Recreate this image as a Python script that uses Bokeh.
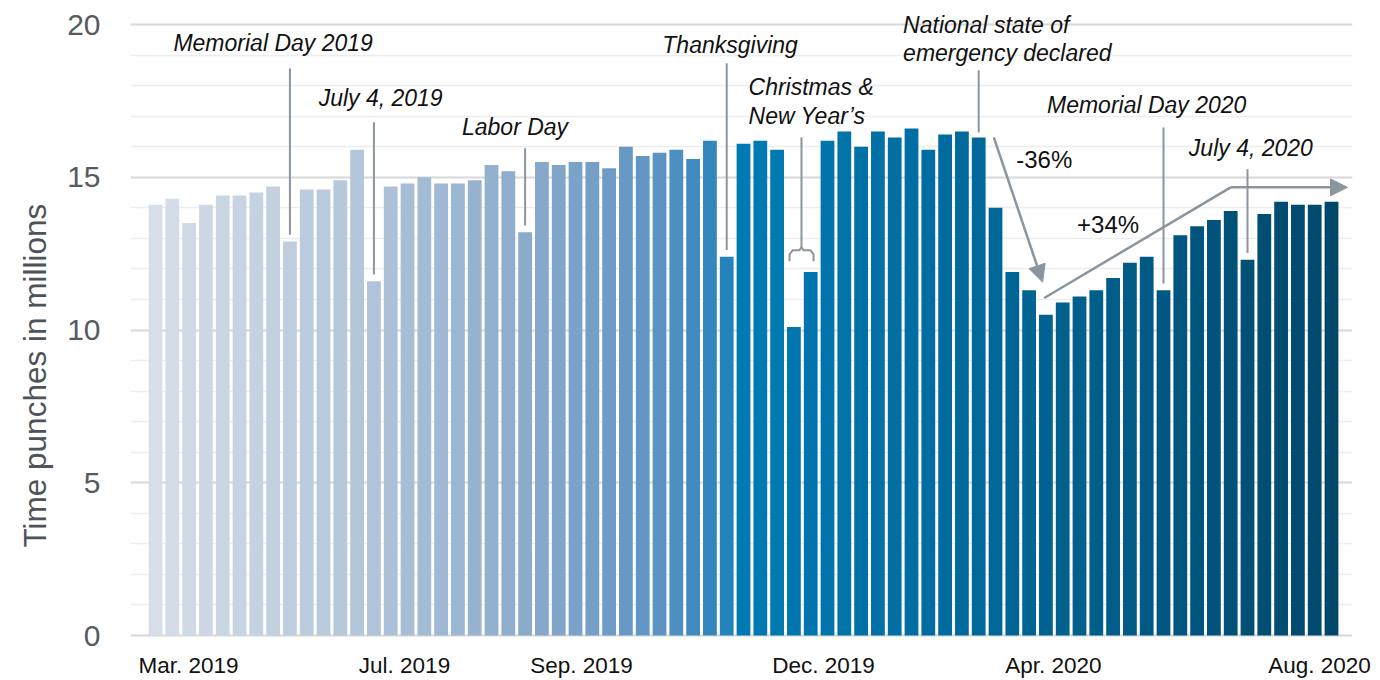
from bokeh.plotting import figure
from bokeh.models import ColumnDataSource, FixedTicker, Arrow, NormalHead, Range1d, Title
from bokeh.core.properties import value
from bokeh.embed import file_html
from bokeh.resources import INLINE

# ---------------- data ----------------
# weekly time punches (millions), one bar per week
punches = [
    14.1, 14.3, 13.5, 14.1, 14.4, 14.4, 14.5, 14.7, 12.9, 14.6, 14.6, 14.9,
    15.9, 11.6, 14.7, 14.8, 15.0, 14.8, 14.8, 14.9, 15.4, 15.2, 13.2, 15.5,
    15.4, 15.5, 15.5, 15.3, 16.0, 15.7, 15.8, 15.9, 15.6, 16.2, 12.4, 16.1,
    16.2, 15.9, 10.1, 11.9, 16.2, 16.5, 16.0, 16.5, 16.3, 16.6, 15.9, 16.4,
    16.5, 16.3, 14.0, 11.9, 11.3, 10.5, 10.9, 11.1, 11.3, 11.7, 12.2, 12.4,
    11.3, 13.1, 13.4, 13.6, 13.9, 12.3, 13.8, 14.2, 14.1, 14.1, 14.2,
]
week = list(range(len(punches)))

x_tick_labels = ["Mar. 2019", "Jul. 2019", "Sep. 2019", "Dec. 2019", "Apr. 2020", "Aug. 2020"]
x_tick_pos = [1.96, 14.82, 25.36, 39.76, 53.45, 69.29]
y_ticks = [0, 5, 10, 15, 20]
y_title = "Time punches in millions"

# single-week events: label, bar index
event_labels = ["Memorial Day 2019", "July 4, 2019", "Labor Day", "Thanksgiving",
                "Memorial Day 2020", "July 4, 2020"]
event_weeks = [8, 13, 22, 34, 60, 65]
holiday_weeks = [38, 39]          # Christmas & New Year's
emergency_week = 49               # National state of emergency declared
drop_label = "-36%"
rise_label = "+34%"

# ---------------- styling helpers ----------------
def hex_to_rgb(h):
    h = h.lstrip("#")
    return tuple(int(h[i:i + 2], 16) for i in (0, 2, 4))

color_stops = [(0, "#d6dee8"), (12, "#b4c6da"), (23, "#87a8ca"), (30, "#5c93c3"),
               (34, "#2582ba"), (35, "#007ab4"), (48, "#006a9c"), (70, "#00486b")]

def ramp(i):
    for (a, ca), (b, cb) in zip(color_stops[:-1], color_stops[1:]):
        if a <= i <= b:
            t = (i - a) / (b - a) if b > a else 0
            r1, g1, b1 = hex_to_rgb(ca)
            r2, g2, b2 = hex_to_rgb(cb)
            return "#%02x%02x%02x" % (round(r1 + (r2 - r1) * t), round(g1 + (g2 - g1) * t), round(b1 + (b2 - b1) * t))
    return color_stops[-1][1]

colors = [ramp(i) for i in week]
src = ColumnDataSource(dict(x=week, top=punches, color=colors))

GRAY = "#8b959d"
FONT = "Liberation Sans"
ANN_SIZE = "23px"

p = figure(width=1380, height=680, output_backend="svg", toolbar_location=None,
           x_range=Range1d(-1.49, 71.25), y_range=Range1d(-0.065, 20.46),
           min_border_left=130, min_border_right=28, min_border_top=10, min_border_bottom=42)
p.outline_line_color = None
p.background_fill_color = "white"
p.border_fill_color = "white"

p.vbar(x="x", top="top", bottom=0, width=0.82, fill_color="color", line_color=None, source=src)

# axes
p.yaxis.ticker = FixedTicker(ticks=y_ticks, minor_ticks=list(range(0, 21)))
p.yaxis.axis_line_color = None
p.yaxis.major_tick_line_color = None
p.yaxis.minor_tick_line_color = None
p.yaxis.major_tick_out = 0
p.yaxis.minor_tick_out = 0
p.yaxis.major_label_standoff = 30
p.yaxis.major_label_text_font = FONT
p.yaxis.major_label_text_font_size = "30px"
p.yaxis.major_label_text_color = "#555b61"

# y-axis title, placed lower than the frame centre as in the reference
p.add_layout(Title(text=y_title, align="left", offset=90, vertical_align="top", standoff=20,
                   text_font=FONT, text_font_size="31.5px", text_font_style="normal",
                   text_color="#4d5359"), "left")

p.xaxis.ticker = FixedTicker(ticks=x_tick_pos)
p.xaxis.major_label_overrides = {pos: lab for pos, lab in zip(x_tick_pos, x_tick_labels)}
p.xaxis.axis_line_color = None
p.xaxis.major_tick_line_color = None
p.xaxis.minor_tick_line_color = None
p.xaxis.major_tick_out = 0
p.xaxis.minor_tick_out = 0
p.xaxis.major_label_standoff = 15
p.xaxis.major_label_text_font = FONT
p.xaxis.major_label_text_font_size = "22.5px"
p.xaxis.major_label_text_color = "#111111"

p.xgrid.grid_line_color = None
p.ygrid.grid_line_color = "#d9d9d9"
p.ygrid.grid_line_width = 2
p.ygrid.minor_grid_line_color = "#ededed"
p.ygrid.minor_grid_line_width = 1.5

def ann_text(x, y, text, align="center", italic=True, size=ANN_SIZE, lift=8):
    p.text(x=[x], y=[y], text=[text], text_font=value(FONT),
           text_font_style="italic" if italic else "normal", text_font_size=size,
           text_color="#111111", text_align=align, text_baseline="alphabetic",
           y_offset=-lift)

gap = 0.22
# single-week event annotations: (text x, text baseline y, line top y)
event_layout = [(7.0, 19.15, 18.56), (13.4, 17.35, 16.8), (21.4, 16.37, 15.95),
                (34.2, 19.08, 18.73), (59.0, 17.12, 16.63), (65.2, 15.69, 15.26)]
for lab, wk, (tx, ty, ltop) in zip(event_labels, event_weeks, event_layout):
    ann_text(tx, ty, lab)
    p.segment(x0=[wk], y0=[ltop], x1=[wk], y1=[punches[wk] + gap], line_color=GRAY, line_width=2)

# Christmas & New Year's with bracket
ann_text(35.3, 17.68, "Christmas &", align="left")
ann_text(35.3, 16.76, "New Year\u2019s", align="left")
mid = (holiday_weeks[0] + holiday_weeks[1]) / 2 - 0.05
p.segment(x0=[mid], y0=[16.31], x1=[mid], y1=[12.71], line_color=GRAY, line_width=2)
bx = [37.74, 37.74, 37.92, 38.33, mid, 38.57, 38.99, 39.17, 39.17]
by = [12.25, 12.48, 12.61, 12.61, 12.71, 12.61, 12.61, 12.48, 12.25]
p.line(bx, by, line_color=GRAY, line_width=2)

# National emergency
ann_text(44.5, 19.71, "National state of", align="left")
ann_text(44.5, 18.82, "emergency declared", align="left")
p.segment(x0=[emergency_week], y0=[18.5], x1=[emergency_week], y1=[punches[emergency_week] + 0.17],
          line_color=GRAY, line_width=2)

# percent change arrows
ann_text(52.9, 15.26, drop_label, italic=False, size="24px", lift=10)
ann_text(56.7, 13.2, rise_label, italic=False, size="24px", lift=8)
p.add_layout(Arrow(x_start=49.9, y_start=16.31, x_end=52.8, y_end=11.57,
                   line_color=GRAY, line_width=2.5,
                   end=NormalHead(size=17, fill_color=GRAY, line_color=GRAY)))
p.line([52.9, 64.0], [11.05, 14.67], line_color=GRAY, line_width=2.5)
p.add_layout(Arrow(x_start=64.0, y_start=14.67, x_end=70.95, y_end=14.67,
                   line_color=GRAY, line_width=2.5,
                   end=NormalHead(size=17, fill_color=GRAY, line_color=GRAY)))

open("out.html", "w").write(file_html(p, INLINE))
